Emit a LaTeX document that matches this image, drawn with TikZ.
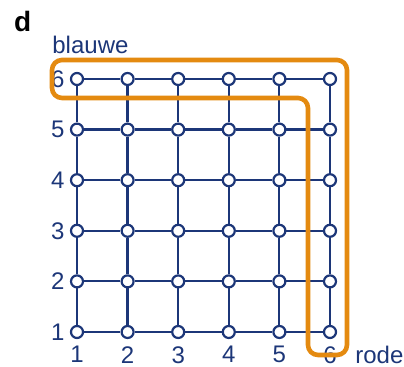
\documentclass[tikz,border=0pt]{standalone}
\usepackage{fontspec}
\setmainfont{Liberation Sans}
\usetikzlibrary{positioning}

\definecolor{gridblue}{RGB}{28,54,120}
\definecolor{pathorange}{RGB}{228,138,16}

\tikzset{
  punt/.style={circle, draw=gridblue, fill=white, line width=1.1pt,
    minimum size=6pt, inner sep=0pt},
  lijn/.style={gridblue, line width=1.1pt},
  getal/.style={text=gridblue, font=\fontsize{12}{14}\selectfont, inner sep=1pt},
  route/.style={pathorange, line width=2.3pt, rounded corners=5pt}
}

\begin{document}
\begin{tikzpicture}[x=0.5pt, y=-0.5pt]
  \useasboundingbox (0,0) rectangle (404,367);

  % Label of the part
  \node[font=\bfseries\fontsize{14}{16}\selectfont, anchor=west] (deel) at (7,22) {d};

  % Grid points
  \foreach \i in {1,...,6} {
    \foreach \j in {1,...,6} {
      \node[punt] (n-\i-\j) at ({77+50.6*(\i-1)}, {332-50.6*(\j-1)}) {};
    }
  }

  % Grid lines
  \foreach \i in {1,...,6} {
    \foreach \j [count=\k from 2] in {1,...,5} {
      \draw[lijn] (n-\i-\j) -- (n-\i-\k);
      \draw[lijn] (n-\j-\i) -- (n-\k-\i);
    }
  }

  % Axis numbers
  \foreach \j in {1,...,6} {
    \node[getal, left=1.5pt of n-1-\j] (rij-\j) {\j};
    \node[getal, below=2.5pt of n-\j-1] (kol-\j) {\j};
  }
  \node[getal, anchor=south west] (blauw) at (50,56) {blauwe};
  \node[getal, anchor=west] (rood) at (353,355) {rode};

  % Route around row 6 and column 6
  \draw[route] (52,60) -- (347,60) -- (347,355) -- (308,355)
    -- (308,98) -- (52,98) -- cycle;

\end{tikzpicture}
\end{document}
